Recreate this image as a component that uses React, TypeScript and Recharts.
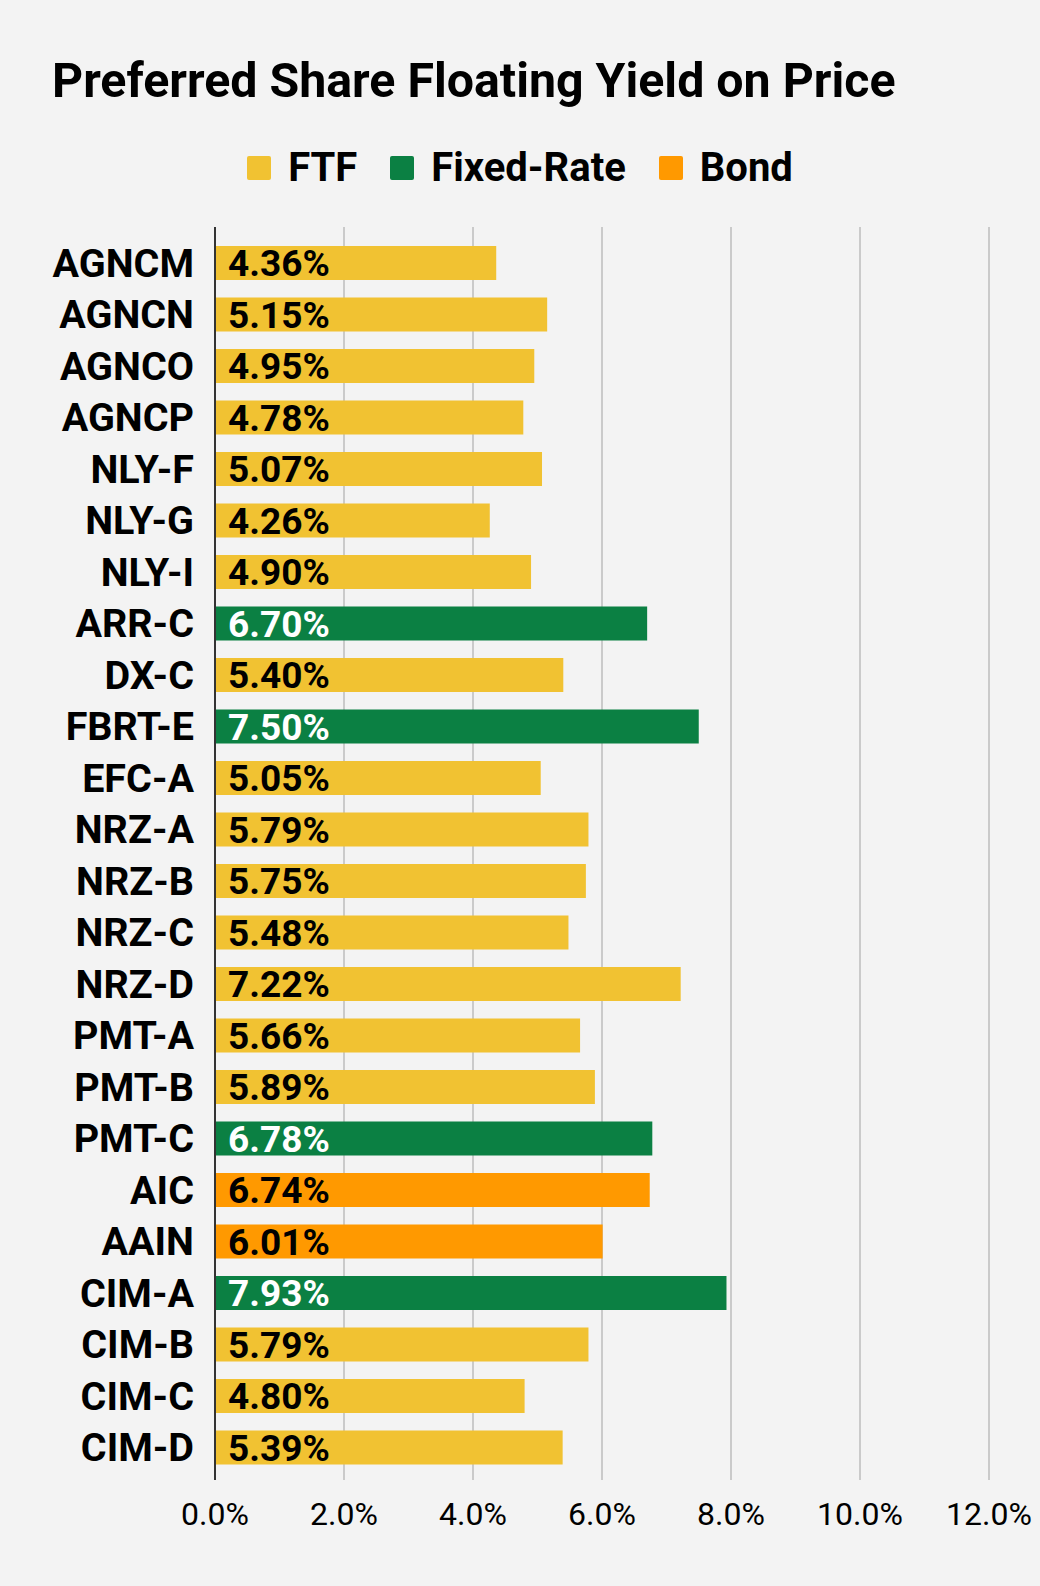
import React from 'react';
import { BarChart, Bar, XAxis, YAxis, CartesianGrid, Cell, LabelList } from 'recharts';

const categories = ['AGNCM','AGNCN','AGNCO','AGNCP','NLY-F','NLY-G','NLY-I','ARR-C','DX-C','FBRT-E','EFC-A','NRZ-A','NRZ-B','NRZ-C','NRZ-D','PMT-A','PMT-B','PMT-C','AIC','AAIN','CIM-A','CIM-B','CIM-C','CIM-D'];
const yields = [4.36,5.15,4.95,4.78,5.07,4.26,4.90,6.70,5.40,7.50,5.05,5.79,5.75,5.48,7.22,5.66,5.89,6.78,6.74,6.01,7.93,5.79,4.80,5.39];
const types = ['FTF','FTF','FTF','FTF','FTF','FTF','FTF','Fixed-Rate','FTF','Fixed-Rate','FTF','FTF','FTF','FTF','FTF','FTF','FTF','Fixed-Rate','Bond','Bond','Fixed-Rate','FTF','FTF','FTF'];
const seriesNames = ['FTF','Fixed-Rate','Bond'];
const seriesColors: Record<string,string> = { 'FTF': '#f1c232', 'Fixed-Rate': '#0b8043', 'Bond': '#ff9900' };
const labelColors: Record<string,string> = { 'FTF': '#000000', 'Fixed-Rate': '#ffffff', 'Bond': '#000000' };
const xTicks = [0,2,4,6,8,10,12];

const data = categories.map((name, i) => ({ name, value: yields[i], type: types[i] }));

const FONT = 'Roboto, "Noto Sans", sans-serif';

const XTick = (props: any) => {
  const { x, y, payload } = props;
  return (
    <text x={x} y={y + 37} textAnchor="middle" fontFamily={FONT} fontSize={32} fill="#000">
      {payload.value.toFixed(1) + '%'}
    </text>
  );
};

const BarLabel = (props: any) => {
  const { x, y, height, index } = props;
  const t = data[index].type;
  return (
    <text x={x + 13} y={y + height / 2} dy="0.36em" textAnchor="start" fontFamily={FONT} fontWeight={700} fontSize={37} fill={labelColors[t]}>
      {data[index].value.toFixed(2) + '%'}
    </text>
  );
};

const LegendBox = () => (
  <div style={{ position: 'absolute', left: 0, top: 143, width: 1040, height: 50, display: 'flex', justifyContent: 'center', alignItems: 'center', fontFamily: FONT }}>
    {seriesNames.map((n, i) => (
      <div key={n} style={{ display: 'flex', alignItems: 'center', marginLeft: i === 0 ? 0 : 33 }}>
        <div style={{ width: 24, height: 24, borderRadius: 2, background: seriesColors[n], marginRight: 17 }} />
        <span style={{ fontSize: 40, fontWeight: 700, color: '#000', lineHeight: '50px' }}>{n}</span>
      </div>
    ))}
  </div>
);

export default function App() {
  return (
    <div style={{ position: 'absolute', left: 0, top: 0, width: 1040, height: 1586, background: '#f3f3f3' }}>
      <BarChart
        layout="vertical"
        width={1040}
        height={1586}
        data={data}
        margin={{ top: 227, right: 51, bottom: 46, left: 0 }}
        style={{ position: 'absolute', left: 0, top: 0 }}
      >
        <CartesianGrid horizontal={false} stroke="#bdbdbd" strokeWidth={1.5} />
        <XAxis type="number" domain={[0, 12]} ticks={xTicks} axisLine={false} tickLine={false} height={60} tick={<XTick />} interval={0} />
        <YAxis
          type="category"
          dataKey="name"
          width={215}
          tickSize={0}
          tickMargin={21}
          axisLine={{ stroke: '#333333', strokeWidth: 2 }}
          tickLine={false}
          interval={0}
          padding={{ top: 10, bottom: 7 }}
          tick={{ fontSize: 39.5, fontWeight: 700, fill: '#000', fontFamily: FONT }}
        />
        <Bar dataKey="value" barSize={34} isAnimationActive={false}>
          {data.map((d, i) => (
            <Cell key={i} fill={seriesColors[d.type]} />
          ))}
          <LabelList dataKey="value" content={<BarLabel />} />
        </Bar>
      </BarChart>
      <div style={{ position: 'absolute', left: 52, top: 52, fontFamily: FONT, fontWeight: 700, fontSize: 48.3, lineHeight: 'normal', color: '#000', whiteSpace: 'nowrap' }}>
        Preferred Share Floating Yield on Price
      </div>
      <LegendBox />
    </div>
  );
}
